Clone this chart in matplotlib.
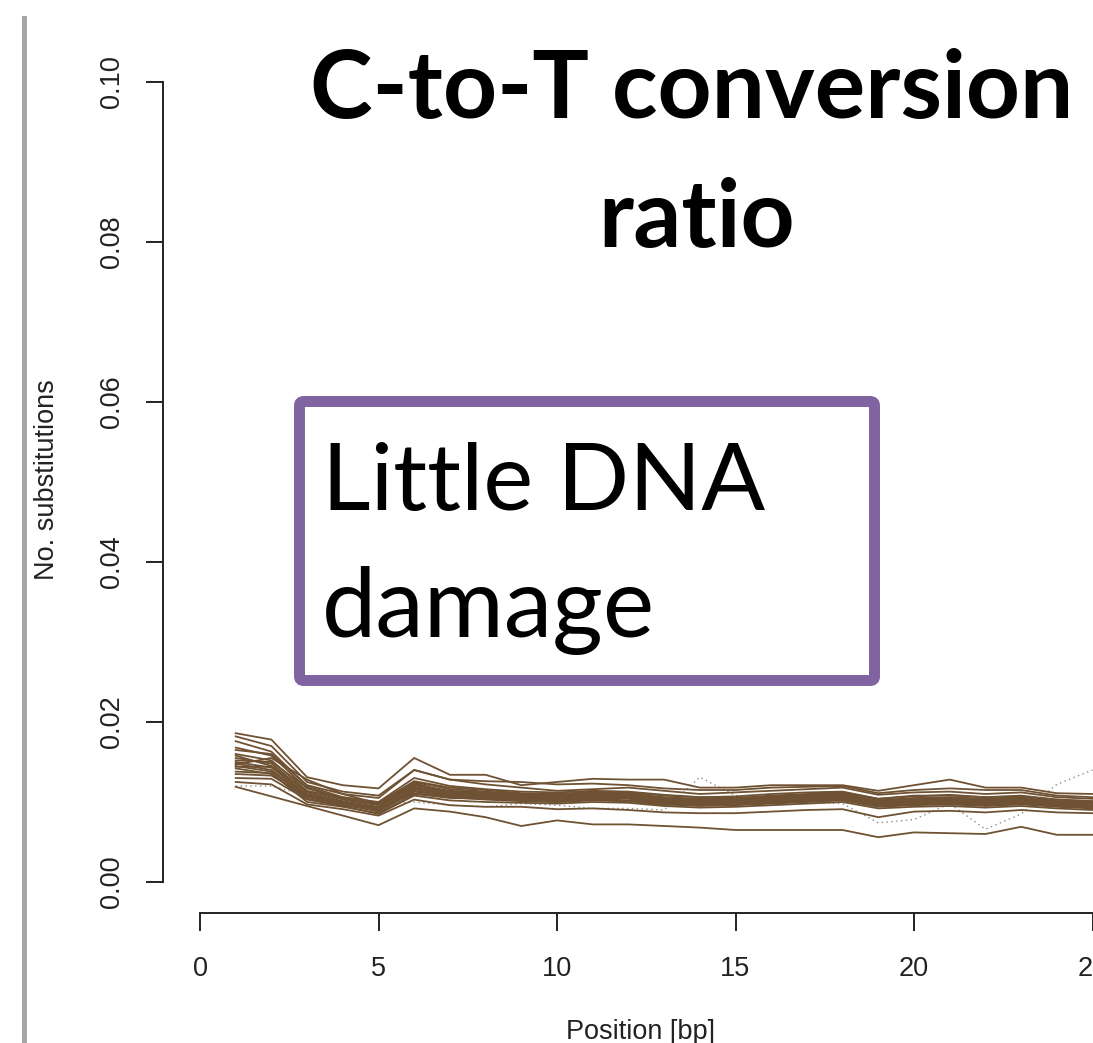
import matplotlib
matplotlib.use("Agg")
import matplotlib.pyplot as plt
from matplotlib.lines import Line2D
from matplotlib.patches import FancyBboxPatch
import numpy as np

# posiciones (bp) y tasas de sustitucion C->T
posiciones = list(range(1, 26))

lineas = [
    [.0186, .0178, .0131, .0121, .0117, .0155, .0134, .0134, .0121, .0125, .0129, .0128, .0128, .0118, .0118, .0121, .0121, .0121, .0114, .0121, .0128, .0118, .0118, .0111, .0110],
    [.0119, .0107, .0095, .0083, .0071, .0092, .0088, .0081, .0070, .0077, .0072, .0072, .0070, .0068, .0065, .0065, .0065, .0065, .0056, .0062, .0061, .0060, .0069, .0059, .0059],
    [.0182, .0170, .0125, .0113, .0108, .0140, .0128, .0122, .0118, .0114, .0116, .0118, .0114, .0110, .0112, .0114, .0116, .0118, .0109, .0112, .0113, .0110, .0112, .0106, .0104],
    [.0176, .0163, .0120, .0106, .0100, .0130, .0120, .0116, .0113, .0112, .0114, .0113, .0109, .0106, .0107, .0110, .0112, .0113, .0104, .0107, .0109, .0106, .0108, .0103, .0101],
    [.0168, .0158, .0117, .0104, .0097, .0125, .0116, .0113, .0110, .0109, .0112, .0110, .0106, .0104, .0104, .0107, .0109, .0111, .0102, .0105, .0106, .0104, .0106, .0101, .0099],
    [.0160, .0152, .0114, .0103, .0096, .0122, .0114, .0112, .0109, .0107, .0110, .0109, .0104, .0102, .0103, .0105, .0107, .0109, .0101, .0103, .0104, .0102, .0104, .0100, .0098],
    [.0155, .0148, .0112, .0101, .0094, .0121, .0113, .0110, .0108, .0106, .0108, .0108, .0103, .0101, .0102, .0104, .0106, .0108, .0100, .0102, .0103, .0101, .0103, .0099, .0097],
    [.0150, .0143, .0110, .0100, .0093, .0119, .0112, .0109, .0107, .0105, .0109, .0107, .0102, .0100, .0101, .0103, .0105, .0107, .0099, .0101, .0102, .0100, .0102, .0098, .0096],
    [.0148, .0140, .0108, .0099, .0091, .0117, .0110, .0108, .0106, .0104, .0107, .0106, .0101, .0099, .0100, .0102, .0104, .0106, .0098, .0100, .0101, .0099, .0101, .0097, .0095],
    [.0145, .0138, .0106, .0097, .0090, .0116, .0109, .0107, .0105, .0103, .0106, .0105, .0100, .0098, .0099, .0101, .0103, .0105, .0097, .0099, .0100, .0098, .0100, .0096, .0094],
    [.0142, .0135, .0104, .0096, .0089, .0114, .0108, .0106, .0104, .0102, .0105, .0104, .0099, .0097, .0098, .0100, .0102, .0104, .0096, .0098, .0099, .0097, .0099, .0095, .0093],
    [.0152, .0150, .0118, .0104, .0097, .0124, .0111, .0111, .0110, .0108, .0111, .0111, .0105, .0103, .0104, .0106, .0108, .0110, .0102, .0104, .0105, .0103, .0105, .0101, .0100],
    [.0138, .0136, .0100, .0094, .0086, .0110, .0105, .0104, .0102, .0100, .0103, .0101, .0097, .0095, .0096, .0098, .0100, .0102, .0094, .0096, .0097, .0095, .0097, .0094, .0092],
    [.0130, .0129, .0103, .0095, .0085, .0108, .0102, .0100, .0099, .0098, .0100, .0099, .0095, .0093, .0094, .0096, .0098, .0100, .0092, .0094, .0095, .0093, .0095, .0092, .0090],
    [.0125, .0122, .0097, .0091, .0083, .0103, .0096, .0094, .0094, .0091, .0092, .0090, .0087, .0086, .0086, .0088, .0090, .0091, .0081, .0088, .0089, .0087, .0090, .0087, .0086],
    [.0165, .0160, .0121, .0110, .0105, .0140, .0128, .0126, .0125, .0122, .0123, .0121, .0117, .0115, .0115, .0118, .0119, .0120, .0111, .0115, .0117, .0115, .0115, .0108, .0106],
    [.0158, .0145, .0113, .0106, .0099, .0126, .0118, .0115, .0111, .0110, .0113, .0112, .0108, .0106, .0105, .0108, .0110, .0112, .0104, .0108, .0108, .0106, .0107, .0103, .0101],
    [.0147, .0155, .0128, .0110, .0098, .0118, .0112, .0110, .0107, .0106, .0108, .0107, .0104, .0103, .0102, .0103, .0105, .0107, .0100, .0101, .0103, .0101, .0102, .0099, .0097],
    [.0135, .0133, .0107, .0098, .0088, .0113, .0107, .0105, .0103, .0101, .0104, .0102, .0099, .0097, .0097, .0099, .0101, .0103, .0096, .0097, .0098, .0096, .0098, .0095, .0093],
    [.0144, .0144, .0109, .0100, .0092, .0111, .0106, .0103, .0101, .0100, .0102, .0101, .0097, .0096, .0097, .0099, .0101, .0103, .0095, .0097, .0098, .0097, .0099, .0096, .0094],
]

# linea punteada gris
punteada = [.0120, .0120, .0108, .0100, .0097, .0100, .0096, .0094, .0098, .0096, .0092, .0092, .0090, .0131, .0108, .0104, .0100, .0098, .0074, .0078, .0098, .0066, .0085, .0122, .0140]

yticks = [0.00, 0.02, 0.04, 0.06, 0.08, 0.10]
ytick_labels = ["0.00", "0.02", "0.04", "0.06", "0.08", "0.10"]
xticks = [0, 5, 10, 15, 20, 25]
xtick_labels = ["0", "5", "10", "15", "20", "25"]

W, H = 1093, 1043
fx = lambda x: x / W
fy = lambda y: 1 - y / H

fig = plt.figure(figsize=(W / 100, H / 100), dpi=100)
fig.patch.set_facecolor("white")

# ejes: x=0 en px 200, 35.7 px por unidad; y=0 en px 882, 8000 px por unidad
ax = fig.add_axes([fx(163), fy(913), fx(W) - fx(163), fy(0) - fy(913)])
ax.set_xlim(-37 / 35.7, (W - 200) / 35.7)
ax.set_ylim(-31 / 8000, 882 / 8000)

ax.plot(posiciones, punteada, color="#8a8a8a", lw=1.0, ls=(0, (1, 2.5)), zorder=2)
for serie in lineas:
    ax.plot(posiciones, serie, color="#6F5233", lw=1.3, zorder=3)

for s in ["top", "right"]:
    ax.spines[s].set_visible(False)
ax.spines["left"].set_bounds(0, 0.10)
ax.spines["bottom"].set_bounds(0, 25)
ax.spines["left"].set_linewidth(1.4)
ax.spines["bottom"].set_linewidth(1.4)
ax.spines["left"].set_color("#222222")
ax.spines["bottom"].set_color("#222222")

ax.set_yticks(yticks)
ax.set_yticklabels(ytick_labels, rotation=90, va="center",
                   fontsize=19.5, family="Liberation Sans", color="#222222")
ax.set_xticks(xticks)
ax.set_xticklabels(xtick_labels, fontsize=19.5, family="Liberation Sans", color="#222222")
ax.tick_params(axis="y", length=12, width=1.4, pad=15, color="#222222")
ax.tick_params(axis="x", length=13, width=1.4, pad=18, color="#222222")
ax.patch.set_alpha(0)

fig.text(fx(47), fy(480), "No. substitutions", rotation=90, ha="center", va="center",
         fontsize=19.5, family="Liberation Sans", color="#222222")
fig.text(fx(640), fy(1032), "Position [bp]", ha="center", va="center",
         fontsize=19.5, family="Liberation Sans", color="#222222")

# barra gris a la izquierda
fig.add_artist(Line2D([fx(24), fx(24)], [fy(18), fy(H + 5)], color="#a6a6a6", lw=3.6))

# titulo
fig.text(fx(692), fy(118), "C-to-T conversion", ha="center", va="baseline",
         fontsize=68, fontweight="bold", family="Lato", color="black")
fig.text(fx(697), fy(247), "ratio", ha="center", va="baseline",
         fontsize=68, fontweight="bold", family="Lato", color="black")

# recuadro morado
caja = FancyBboxPatch((fx(299.5), fy(680.5)), fx(874.5) - fx(299.5), fy(401.5) - fy(680.5),
                      boxstyle="round,pad=0,rounding_size=0.004", transform=fig.transFigure,
                      facecolor="white", edgecolor="#8064A2", lw=7.9, zorder=5)
fig.add_artist(caja)
fig.text(fx(322), fy(510), "Little DNA", ha="left", va="baseline",
         fontsize=68, family="Lato", color="black", zorder=6)
fig.text(fx(322), fy(637), "damage", ha="left", va="baseline",
         fontsize=70, family="Lato", color="black", zorder=6)

fig.savefig("out.png", dpi=100, facecolor="white")
